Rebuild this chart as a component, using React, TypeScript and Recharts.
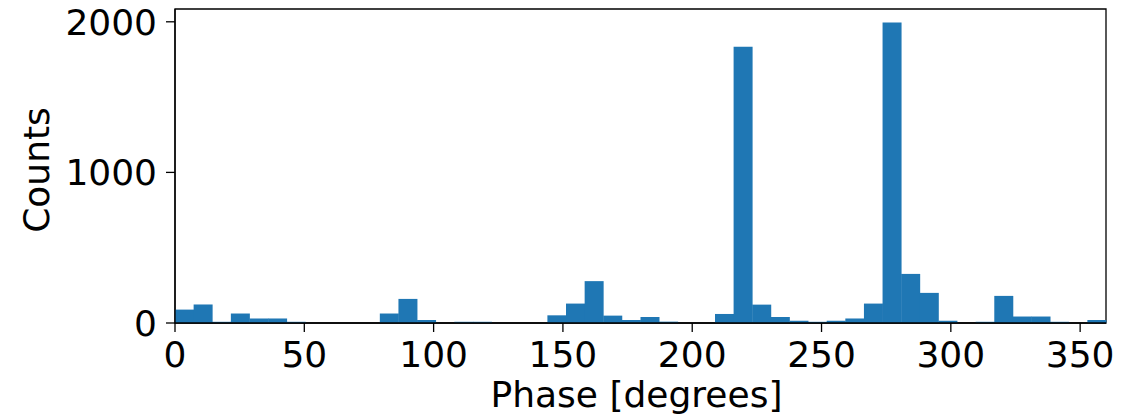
import { BarChart, Bar, XAxis, YAxis, Label, ReferenceArea } from 'recharts';

// histogram of phases, 50 bins of 7.2 degrees
const binCenters = Array.from({ length: 50 }, (_, i) => 3.6 + i * 7.2);
const counts = [
  89, 123, 8, 63, 30, 30, 8, 0, 0, 0,
  0, 63, 160, 20, 0, 8, 8, 0, 0, 0,
  51, 129, 278, 49, 20, 40, 9, 0, 0, 60,
  1835, 122, 40, 15, 8, 15, 30, 129, 1995, 326,
  200, 15, 0, 8, 180, 43, 43, 8, 0, 20,
];
const xTicks = [0, 50, 100, 150, 200, 250, 300, 350];
const yTicks = [0, 1000, 2000];

const data = binCenters.map((phase, i) => ({ phase, count: counts[i] }));

const FONT = '"DejaVu Sans", sans-serif';
const FS = 36;

export default function App() {
  return (
    <div style={{ position: 'absolute', left: 0, top: 0, background: '#fff' }}>
      <BarChart
        width={1140}
        height={418}
        data={data}
        margin={{ top: 9, right: 34, left: 0, bottom: 0 }}
        barCategoryGap={0}
        barGap={0}
      >
        <XAxis
          dataKey="phase"
          type="number"
          domain={[0, 360]}
          ticks={xTicks}
          interval={0}
          height={95}
          tickSize={9}
          tickMargin={9}
          stroke="#000"
          tickLine={{ stroke: '#000', strokeWidth: 1.3 }}
          axisLine={{ stroke: '#000', strokeWidth: 1.3 }}
          tick={{ fill: '#000', fontSize: FS, fontFamily: FONT }}
        >
          <Label
            content={({ viewBox }: any) => (
              <text
                x={viewBox.x + viewBox.width / 2 - 4}
                y={407}
                textAnchor="middle"
                fontSize={FS}
                fontFamily={FONT}
                fill="#000"
              >
                Phase [degrees]
              </text>
            )}
          />
        </XAxis>
        <YAxis
          type="number"
          domain={[0, 2085]}
          ticks={yTicks}
          interval={0}
          width={175}
          tickSize={9}
          tickMargin={9}
          tickLine={{ stroke: '#000', strokeWidth: 1.3 }}
          axisLine={{ stroke: '#000', strokeWidth: 1.3 }}
          tick={{ fill: '#000', fontSize: FS, fontFamily: FONT }}
        >
          <Label
            content={({ viewBox }: any) => {
              const cy = viewBox.y + viewBox.height / 2 + 4;
              return (
                <text
                  x={49}
                  y={cy}
                  transform={`rotate(-90 49 ${cy})`}
                  textAnchor="middle"
                  fontSize={FS}
                  fontFamily={FONT}
                  fill="#000"
                >
                  Counts
                </text>
              );
            }}
          />
        </YAxis>
        <Bar dataKey="count" fill="#1f77b4" isAnimationActive={false} />
        <ReferenceArea
          x1={0}
          x2={360}
          y1={0}
          y2={2085}
          fill="none"
          fillOpacity={0}
          stroke="#000"
          strokeWidth={1.3}
          ifOverflow="visible"
        />
      </BarChart>
    </div>
  );
}
